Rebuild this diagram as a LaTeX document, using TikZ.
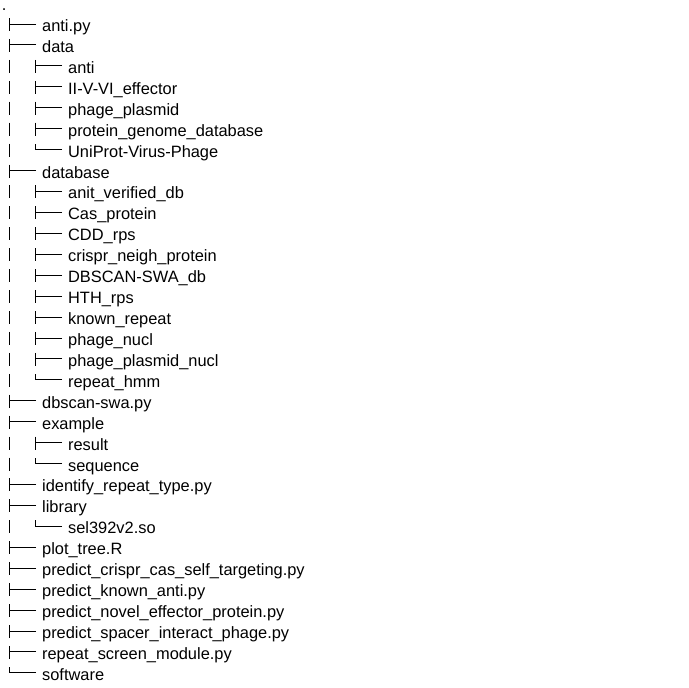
\documentclass[tikz,border=0pt]{standalone}
\usepackage{fontspec}
\setmainfont{Liberation Sans}
\usepackage{tikz}
\usetikzlibrary{positioning}

\tikzset{
  item/.style={anchor=west, inner sep=0pt, text height=15pt, text depth=0pt, font=\fontsize{16.4pt}{18pt}\selectfont},
  tee/.style={insert path={++(-5.7pt,0) -- ++(-27pt,0) ++(0,6pt) -- ++(0,-13pt)}},
  ell/.style={insert path={++(-5.7pt,0) -- ++(-27pt,0) -- ++(0,6pt)}},
  bar/.style={insert path={++(-58.7pt,6pt) -- ++(0,-13pt)}}
}

\begin{document}
\begin{tikzpicture}[node distance = 20.93pt, line width=0.9pt]
\useasboundingbox (0,0) rectangle (688pt,-688pt);

\node [item, text height=7pt] (root) at (1.5pt,-7.07pt) {.};
\node [below=16.93pt of root.west, xshift=40.2pt, item] (antipy) {anti.py};
\node [below=of antipy.west, item] (data) {data};
\node [below=of data.west, xshift=26pt, item] (danti) {anti};
\node [below=of danti.west, item] (effector) {II-V-VI\_effector};
\node [below=of effector.west, item] (phplasmid) {phage\_plasmid};
\node [below=of phplasmid.west, item] (protgenome) {protein\_genome\_database};
\node [below=of protgenome.west, item] (uniprot) {UniProt-Virus-Phage};
\node [below=of uniprot.west, xshift=-26pt, item] (database) {database};
\node [below=of database.west, xshift=26pt, item] (verified) {anit\_verified\_db};
\node [below=of verified.west, item] (cas) {Cas\_protein};
\node [below=of cas.west, item] (cdd) {CDD\_rps};
\node [below=of cdd.west, item] (neigh) {crispr\_neigh\_protein};
\node [below=of neigh.west, item] (dbscandb) {DBSCAN-SWA\_db};
\node [below=of dbscandb.west, item] (hth) {HTH\_rps};
\node [below=of hth.west, item] (known) {known\_repeat};
\node [below=of known.west, item] (phnucl) {phage\_nucl};
\node [below=of phnucl.west, item] (ppnucl) {phage\_plasmid\_nucl};
\node [below=of ppnucl.west, item] (hmm) {repeat\_hmm};
\node [below=of hmm.west, xshift=-26pt, item] (dbscan) {dbscan-swa.py};
\node [below=of dbscan.west, item] (example) {example};
\node [below=of example.west, xshift=26pt, item] (result) {result};
\node [below=of result.west, item] (sequence) {sequence};
\node [below=of sequence.west, xshift=-26pt, item] (identify) {identify\_repeat\_type.py};
\node [below=of identify.west, item] (library) {library};
\node [below=of library.west, xshift=26pt, item] (sel) {sel392v2.so};
\node [below=of sel.west, xshift=-26pt, item] (plottree) {plot\_tree.R};
\node [below=of plottree.west, item] (selftarget) {predict\_crispr\_cas\_self\_targeting.py};
\node [below=of selftarget.west, item] (knownanti) {predict\_known\_anti.py};
\node [below=of knownanti.west, item] (effprot) {predict\_novel\_effector\_protein.py};
\node [below=of effprot.west, item] (spacer) {predict\_spacer\_interact\_phage.py};
\node [below=of spacer.west, item] (screen) {repeat\_screen\_module.py};
\node [below=of screen.west, item] (software) {software};

% top level
\draw (antipy.west) [tee];
\draw (data.west) [tee];
\draw (database.west) [tee];
\draw (dbscan.west) [tee];
\draw (example.west) [tee];
\draw (identify.west) [tee];
\draw (library.west) [tee];
\draw (plottree.west) [tee];
\draw (selftarget.west) [tee];
\draw (knownanti.west) [tee];
\draw (effprot.west) [tee];
\draw (spacer.west) [tee];
\draw (screen.west) [tee];
\draw (software.west) [ell];

% data
\draw (danti.west) [tee] (danti.west) [bar];
\draw (effector.west) [tee] (effector.west) [bar];
\draw (phplasmid.west) [tee] (phplasmid.west) [bar];
\draw (protgenome.west) [tee] (protgenome.west) [bar];
\draw (uniprot.west) [ell] (uniprot.west) [bar];

% database
\draw (verified.west) [tee] (verified.west) [bar];
\draw (cas.west) [tee] (cas.west) [bar];
\draw (cdd.west) [tee] (cdd.west) [bar];
\draw (neigh.west) [tee] (neigh.west) [bar];
\draw (dbscandb.west) [tee] (dbscandb.west) [bar];
\draw (hth.west) [tee] (hth.west) [bar];
\draw (known.west) [tee] (known.west) [bar];
\draw (phnucl.west) [tee] (phnucl.west) [bar];
\draw (ppnucl.west) [tee] (ppnucl.west) [bar];
\draw (hmm.west) [ell] (hmm.west) [bar];

% example, library
\draw (result.west) [tee] (result.west) [bar];
\draw (sequence.west) [ell] (sequence.west) [bar];
\draw (sel.west) [ell] (sel.west) [bar];

\end{tikzpicture}
\end{document}
